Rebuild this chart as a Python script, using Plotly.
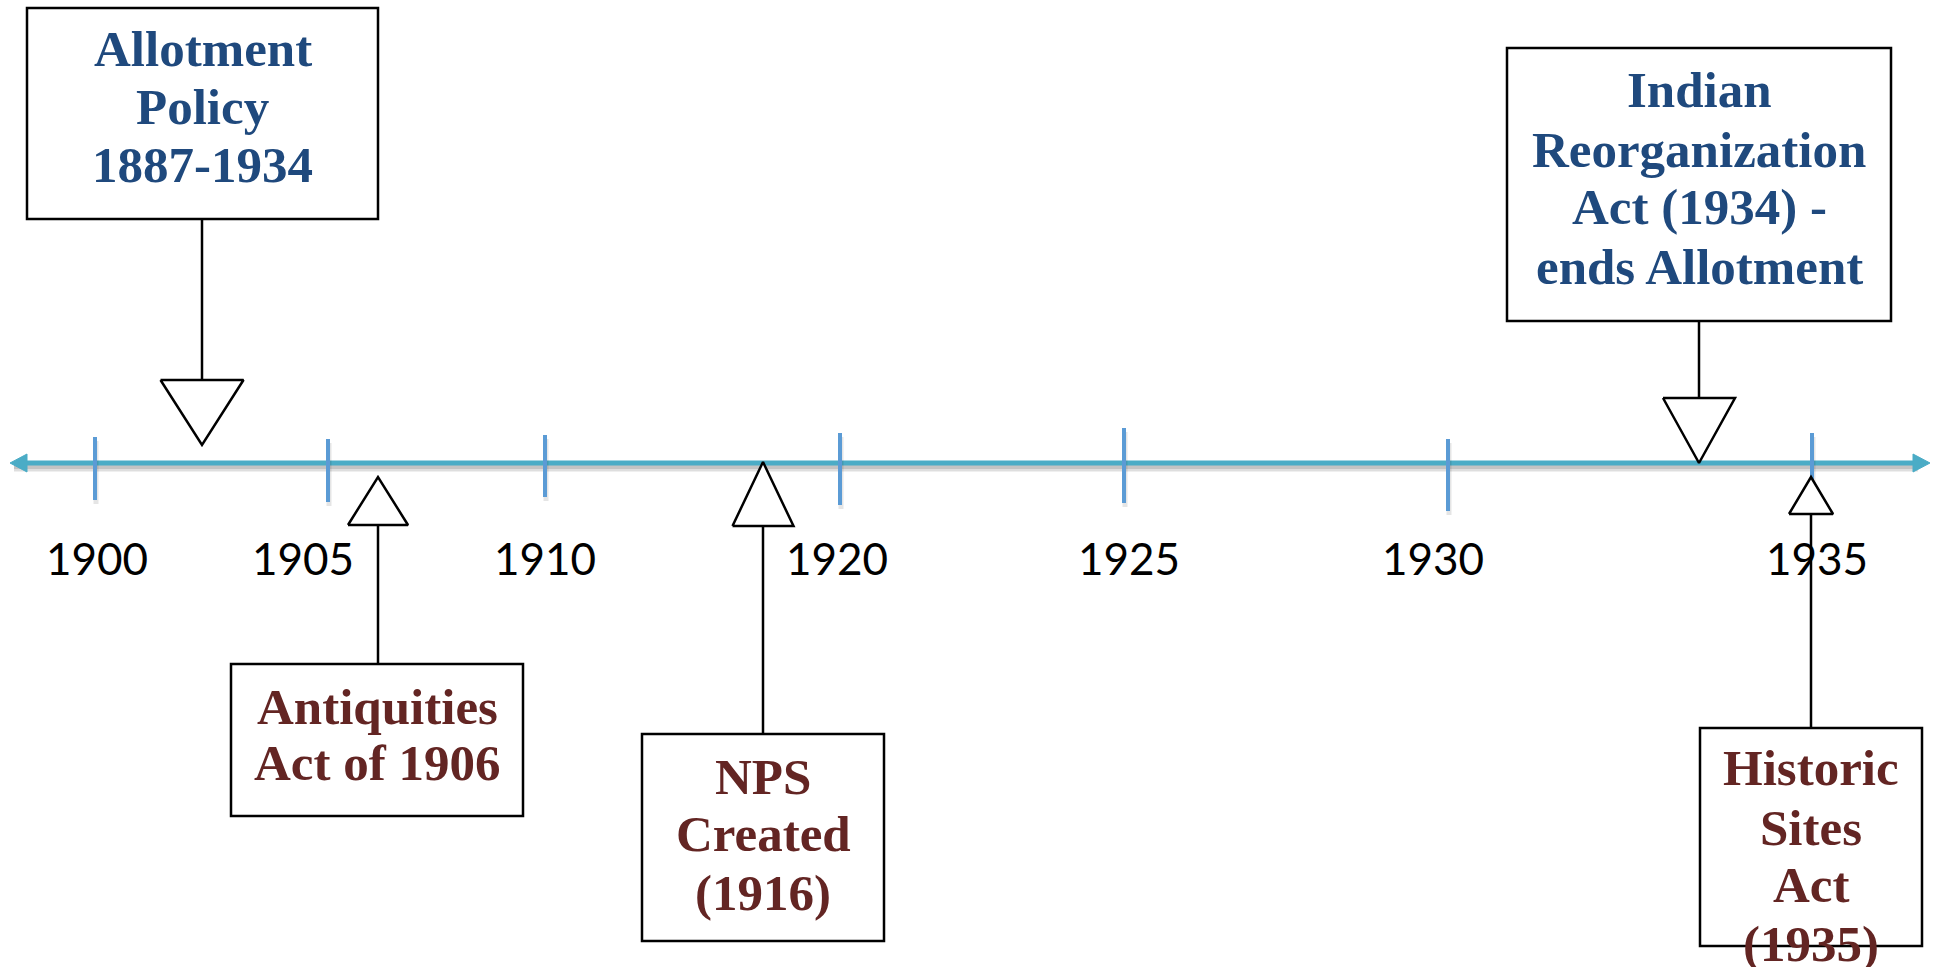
import plotly.graph_objects as go

# ---- data ----
tick_years = ["1900", "1905", "1910", "1920", "1925", "1930", "1935"]
tick_x = [95, 328, 545, 840, 1124, 1448, 1812]
tick_top = [437, 439, 435, 433, 428, 439, 433]
tick_bottom = [500, 502, 497, 505, 503, 511, 500]
label_x = [97, 303, 545, 837, 1129, 1433, 1817]

event_lines = [
    ["Allotment", "Policy", "1887-1934"],
    ["Antiquities", "Act of 1906"],
    ["NPS", "Created", "(1916)"],
    ["Indian", "Reorganization", "Act (1934) -", "ends Allotment"],
    ["Historic", "Sites", "Act", "(1935)"],
]
event_side = ["above", "below", "below", "above", "below"]
event_x = [202, 378, 763, 1699, 1811]          # pointer position on the line
event_apex_y = [445, 477, 462, 463, 477]
event_tri_w = [83, 60, 61, 72, 44]
event_tri_h = [65, 48, 64, 65, 37]
event_box = [  # x0, x1, y0, y1
    (27, 378, 8, 219),
    (231, 523, 664, 816),
    (642, 884, 734, 941),
    (1507, 1891, 48, 321),
    (1700, 1922, 728, 946),
]
event_text_y = [
    [49, 107, 165],
    [707, 763],
    [777, 834, 893],
    [90, 150, 207, 267],
    [768, 828, 885, 944],
]

BLUE = "#1F497D"
RED = "#632523"
AXIS = "#4BACC6"
TICK = "#5B9BD5"
W, H = 1939, 967
AXIS_Y = 463

fig = go.Figure()

# axis shadow
fig.add_trace(go.Scatter(x=[14, 1918], y=[AXIS_Y + 5, AXIS_Y + 5], mode="lines",
                         line=dict(color="rgba(0,0,0,0.13)", width=7), hoverinfo="skip"))
fig.add_trace(go.Scatter(x=[14, 1918], y=[AXIS_Y + 4, AXIS_Y + 4], mode="lines",
                         line=dict(color="rgba(0,0,0,0.12)", width=4), hoverinfo="skip"))
# axis line
fig.add_trace(go.Scatter(x=[20, 1918], y=[AXIS_Y, AXIS_Y], mode="lines",
                         line=dict(color=AXIS, width=5), hoverinfo="skip"))
# arrow heads
fig.add_trace(go.Scatter(x=[10, 27, 27, 10], y=[AXIS_Y, AXIS_Y - 9, AXIS_Y + 9, AXIS_Y],
                         mode="lines", fill="toself", fillcolor=AXIS,
                         line=dict(color=AXIS, width=1), hoverinfo="skip"))
fig.add_trace(go.Scatter(x=[1930, 1913, 1913, 1930], y=[AXIS_Y, AXIS_Y - 9, AXIS_Y + 9, AXIS_Y],
                         mode="lines", fill="toself", fillcolor=AXIS,
                         line=dict(color=AXIS, width=1), hoverinfo="skip"))

# ticks (with soft shadow)
for tx, t0, t1 in zip(tick_x, tick_top, tick_bottom):
    fig.add_trace(go.Scatter(x=[tx + 1, tx + 1], y=[t0 + 4, t1 + 4], mode="lines",
                             line=dict(color="rgba(0,0,0,0.10)", width=5), hoverinfo="skip"))
    fig.add_trace(go.Scatter(x=[tx, tx], y=[t0, t1], mode="lines",
                             line=dict(color=TICK, width=4), hoverinfo="skip"))

# tick labels
for lx, yr in zip(label_x, tick_years):
    fig.add_annotation(x=lx, y=558, text=yr, showarrow=False, xanchor="center", yanchor="middle",
                       font=dict(family="Lato", size=44, color="black"))

shapes = []
for i, lines in enumerate(event_lines):
    x0, x1, y0, y1 = event_box[i]
    px = event_x[i]
    apex = event_apex_y[i]
    tw = event_tri_w[i] / 2
    th = event_tri_h[i]
    color = BLUE if event_side[i] == "above" else RED
    if event_side[i] == "above":
        base = apex - th
        conn = (y1, base)
    else:
        base = apex + th
        conn = (base, y0)
    # connector
    fig.add_trace(go.Scatter(x=[px, px], y=list(conn), mode="lines",
                             line=dict(color="black", width=2.5), hoverinfo="skip"))
    # triangle
    fig.add_trace(go.Scatter(x=[px - tw, px + tw, px, px - tw], y=[base, base, apex, base],
                             mode="lines", fill="toself", fillcolor="white",
                             line=dict(color="black", width=2.5), hoverinfo="skip"))
    # box
    shapes.append(dict(type="rect", xref="x", yref="y", x0=x0, x1=x1, y0=y0, y1=y1,
                       line=dict(color="black", width=2.5), fillcolor="rgba(255,255,255,0)", layer="above"))
    cx = (x0 + x1) / 2 if i != 4 else px
    for line, ty in zip(lines, event_text_y[i]):
        fig.add_annotation(x=cx, y=ty, text="<b>" + line + "</b>", showarrow=False,
                           xanchor="center", yanchor="middle",
                           font=dict(family="Liberation Serif", size=51, color=color))

fig.update_layout(
    width=W, height=H, margin=dict(l=0, r=0, t=0, b=0),
    paper_bgcolor="white", plot_bgcolor="white", showlegend=False,
    shapes=shapes,
    xaxis=dict(range=[0, W], visible=False, fixedrange=True),
    yaxis=dict(range=[H, 0], visible=False, fixedrange=True),
)

fig.write_html("out.html", config={"displayModeBar": False},
               post_script="document.body.style.margin='0';document.body.style.overflow='hidden';")
